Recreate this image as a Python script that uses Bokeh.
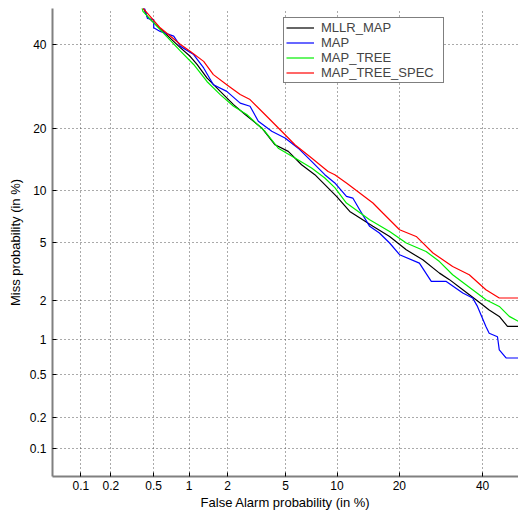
from statistics import NormalDist
from bokeh.plotting import figure
from bokeh.models import Range1d, FixedTicker, Legend, LegendItem
from bokeh.embed import file_html
from bokeh.resources import INLINE

# ---- data (percent) ----
tick_pct = [0.1, 0.2, 0.5, 1, 2, 5, 10, 20, 40]
tick_labels = ["0.1", "0.2", "0.5", "1", "2", "5", "10", "20", "40"]

mllr_fa = [0.40, 0.436, 0.85, 1.02, 1.16, 1.39, 1.76, 2.21, 2.68, 3.49, 4.28, 5.20, 6.28, 7.52, 8.57,
           9.94, 11.67, 15.2, 18.14, 21.4, 24.96, 28.84, 31.3, 34.7, 38.2, 41.8, 44.6, 46.9, 50.0]
mllr_miss = [50.5, 47.8, 39.1, 36.85, 34.7, 31.3, 28.0, 24.96, 22.8, 20.05, 16.9, 15.76, 13.6, 12.13,
             10.77, 9.33, 7.68, 6.28, 5.45, 4.49, 3.86, 3.14, 2.83, 2.40, 2.03, 1.70, 1.52, 1.27, 1.27]

map_fa = [0.41, 0.44, 0.50, 0.50, 0.57, 0.745, 0.85, 1.09, 1.31, 1.56, 1.97, 2.47, 2.90, 3.31, 4.07,
          4.96, 5.99, 7.2, 8.57, 9.73, 11.22, 12.1, 13.1, 14.66, 16.3, 18.14, 20.05, 24.2, 26.9,
          30.5, 34.7, 37.3, 38.6, 40.9, 41.8, 44.1, 44.6, 46.5, 50.0]
map_miss = [50.5, 47.2, 46.9, 44.6, 43.6, 42.3, 39.5, 37.3, 33.8, 29.6, 28.0, 25.3, 24.6, 21.4, 19.4,
            18.14, 16.3, 14.12, 12.13, 11.0, 9.33, 9.13, 7.86, 6.28, 5.72, 4.96, 4.17, 3.67, 2.75,
            2.75, 2.27, 2.09, 1.81, 1.27, 1.12, 1.05, 0.82, 0.70, 0.70]

tree_fa = [0.39, 0.40, 0.85, 1.09, 1.39, 1.76, 2.21, 2.75, 3.67, 4.49, 5.72, 7.2, 8.57, 9.73,
           11.22, 14.66, 18.14, 21.4, 25.7, 28.84, 32.1, 37.3, 40.9, 44.6, 47.4, 50.0]
tree_miss = [50.5, 49.2, 38.2, 34.7, 30.4, 27.25, 24.6, 22.8, 19.4, 16.3, 14.66, 13.1, 11.67, 10.4,
             8.57, 6.88, 5.85, 4.96, 4.38, 3.76, 3.06, 2.40, 2.03, 1.81, 1.52, 1.39]

spec_fa = [0.39, 0.57, 0.85, 1.02, 1.31, 1.56, 1.97, 2.47, 2.90, 3.67, 4.72, 5.72, 7.2, 8.94, 9.73,
           11.22, 15.2, 16.9, 20.05, 23.5, 27.3, 32.1, 36.4, 40.9, 44.6, 50.0]
spec_miss = [50.5, 44.6, 40.0, 38.2, 35.5, 32.1, 29.6, 27.25, 26.1, 22.8, 19.4, 16.9, 14.66, 12.6,
             12.13, 11.0, 8.57, 7.52, 5.99, 5.45, 4.28, 3.48, 3.06, 2.40, 2.09, 2.09]

series = [
    ("MLLR_MAP", mllr_fa, mllr_miss, "#000000"),
    ("MAP", map_fa, map_miss, "#0000ff"),
    ("MAP_TREE", tree_fa, tree_miss, "#00ee00"),
    ("MAP_TREE_SPEC", spec_fa, spec_miss, "#ff0000"),
]

nd = NormalDist()
def probit(v):
    return [nd.inv_cdf(x / 100.0) for x in v]

lo, hi = nd.inv_cdf(0.0005), 0.0

p = figure(width=518, height=512, output_backend="svg", toolbar_location=None,
           x_range=Range1d(lo, hi), y_range=Range1d(lo, hi))
p.min_border_left = 52
p.min_border_right = 0
p.min_border_top = 8
p.min_border_bottom = 35
p.outline_line_color = None
p.background_fill_color = "white"
p.border_fill_color = "white"

ticks = probit(tick_pct)
overrides = {t: s for t, s in zip(ticks, tick_labels)}
FONT = "Liberation Sans"
for ax in (p.xaxis[0], p.yaxis[0]):
    ax.ticker = FixedTicker(ticks=ticks)
    ax.major_label_overrides = overrides
    ax.minor_tick_line_color = None
    ax.major_tick_in = 4
    ax.major_tick_out = 0
    ax.major_tick_line_color = "black"
    ax.axis_line_color = "#808080"
    ax.axis_line_width = 2
    ax.major_label_text_font = FONT
    ax.major_label_text_font_size = "12px"
    ax.major_label_text_color = "black"
    ax.axis_label_text_font = FONT
    ax.axis_label_text_font_size = "13px"
    ax.axis_label_text_font_style = "normal"
    ax.axis_label_text_color = "black"

p.xaxis.axis_label = "False Alarm probability (in %)"
p.yaxis.axis_label = "Miss probability (in %)"
p.xaxis.major_label_standoff = 4
p.xaxis.axis_label_standoff = 2
p.yaxis.major_label_standoff = 6
p.yaxis.axis_label_standoff = 4

for g in (p.xgrid[0], p.ygrid[0]):
    g.grid_line_color = "#555555"
    g.grid_line_dash = "1 3"
    g.grid_line_width = 1

items = []
for name, fa, miss, col in series:
    r = p.line(probit(fa), probit(miss), line_color=col, line_width=1.2)
    items.append(LegendItem(label=name, renderers=[r]))

leg = Legend(items=items, location=(231, 393))
leg.margin = 0
leg.padding = 2
leg.spacing = 0
leg.label_height = 13
leg.glyph_height = 13
leg.glyph_width = 28
leg.label_standoff = 7
leg.label_width = 120
leg.label_text_font = FONT
leg.label_text_font_size = "13px"
leg.border_line_color = "black"
leg.border_line_width = 1.5
leg.background_fill_color = "white"
leg.background_fill_alpha = 1
p.add_layout(leg)

open("out.html", "w").write(file_html(p, INLINE))
